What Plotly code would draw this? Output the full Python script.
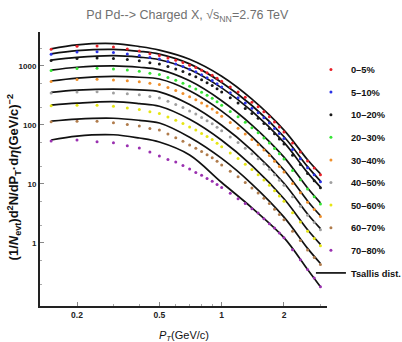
import plotly.graph_objects as go

# transverse momentum bins (GeV/c)
pt = [0.15, 0.2, 0.25, 0.3, 0.35, 0.4, 0.45, 0.5, 0.55, 0.6, 0.65, 0.7, 0.75, 0.8, 0.85,
      0.9, 0.95, 1.0, 1.1, 1.2, 1.3, 1.4, 1.5, 1.6, 1.7, 1.8, 1.9, 2.0, 2.2, 2.4, 2.6, 2.8, 3.0]

# measured spectra per centrality class
c0_5 = [1915, 2150, 2177, 2094, 1937, 1791, 1619, 1499, 1365, 1248, 1141, 1027, 939, 846, 767,
        696, 620, 552, 442, 364, 296, 244, 203, 167, 138, 112, 92, 76, 49.5, 34.8, 24.5, 18.7, 14.3]
c5_10 = [1577, 1723, 1750, 1691, 1601, 1511, 1393, 1308, 1187, 1077, 981, 880, 795, 707, 634,
         569, 500, 442, 353, 290, 235, 193, 161, 132, 108, 87.6, 71.8, 58.9, 38.3, 26.9, 18.9, 14.3, 10.9]
c10_20 = [1234, 1334, 1371, 1339, 1283, 1224, 1137, 1077, 977, 887, 807, 724, 654, 582, 520,
          469, 412, 364, 289, 236, 191, 156, 130, 106, 87.3, 70.8, 58.0, 47.6, 30.8, 21.4, 15.0, 11.4, 8.6]
c20_30 = [836, 904, 918, 889, 853, 813, 755, 716, 637, 571, 512, 454, 406, 358, 318,
          284, 248, 217, 170, 138, 111, 89.7, 73.8, 60.3, 49.3, 39.8, 32.5, 26.5, 17.0, 11.8, 8.2, 6.1, 4.6]
c30_40 = [545, 589, 598, 580, 562, 541, 508, 485, 430, 383, 342, 302, 269, 236, 209,
          186, 162, 141, 110, 88.3, 70.2, 56.6, 46.3, 37.5, 30.4, 24.4, 19.8, 16.0, 10.2, 7.1, 4.9, 3.7, 2.8]
c40_50 = [350, 364, 365, 350, 338, 325, 304, 288, 252, 223, 197, 172, 153, 134, 118,
          105, 91.4, 79.8, 62.5, 50.4, 40.4, 32.7, 26.9, 21.9, 17.8, 14.3, 11.6, 9.5, 6.1, 4.2, 2.95, 2.22, 1.68]
c50_60 = [211, 217, 217, 207, 194, 183, 168, 157, 137, 120, 106, 92.2, 82.0, 71.8, 63.5,
          56.5, 49.1, 42.9, 33.5, 27.1, 21.7, 17.6, 14.4, 11.7, 9.5, 7.7, 6.25, 5.08, 3.26, 2.27, 1.58, 1.19, 0.90]
c60_70 = [113, 116, 116, 109, 102, 95.8, 87.6, 82.0, 70.5, 61.0, 53.2, 45.8, 40.5, 35.5, 31.3,
          27.8, 24.2, 21.0, 16.5, 13.3, 10.6, 8.56, 7.02, 5.71, 4.65, 3.74, 3.04, 2.47, 1.58, 1.10, 0.76, 0.57, 0.43]
c70_80 = [53.5, 55.6, 52.0, 50.0, 44.5, 40.7, 34.9, 29.8, 26.0, 23.6, 20.6, 18.0, 15.7, 14.0, 12.4,
          11.1, 9.84, 8.76, 7.0, 5.6, 4.67, 3.80, 3.21, 2.57, 2.12, 1.79, 1.48, 1.23, 0.77, 0.52, 0.354, 0.256, 0.181]

# Tsallis distribution curves, read at these pT values
fit_pt = [0.15, 0.2, 0.3, 0.4, 0.5, 0.7, 1.0, 1.4, 2.0, 2.6, 3.0]
f0_5 = [1954, 2280, 2399, 2135, 1857, 1298, 670, 274, 82.0, 25.7, 14.8]
f5_10 = [1607, 1820, 1915, 1772, 1589, 1085, 526, 214, 63.2, 19.7, 11.2]
f10_20 = [1253, 1397, 1493, 1409, 1277, 873, 425, 172, 50.6, 15.6, 8.87]
f20_30 = [849, 951, 1004, 951, 866, 560, 258, 99.6, 28.5, 8.53, 4.78]
f30_40 = [556, 625, 665, 644, 601, 381, 172, 63.7, 17.3, 5.16, 2.89]
f40_50 = [357, 389, 406, 393, 364, 222, 98.9, 37.2, 10.3, 3.10, 1.75]
f50_60 = [217, 234, 248, 230, 208, 125, 55.2, 20.5, 5.62, 1.68, 0.95]
f60_70 = [116, 126, 130, 120, 108, 62, 27.1, 9.96, 2.74, 0.81, 0.45]
f70_80 = [55.6, 64.9, 68.3, 60.1, 51.4, 31.0, 10.6, 3.95, 1.23, 0.354, 0.181]

labels = ["0\u20135%", "5\u201310%", "10\u201320%", "20\u201330%", "30\u201340%",
          "40\u201350%", "50\u201360%", "60\u201370%", "70\u201380%"]
data_sets = [c0_5, c5_10, c10_20, c20_30, c30_40, c40_50, c50_60, c60_70, c70_80]
fit_sets = [f0_5, f5_10, f10_20, f20_30, f30_40, f40_50, f50_60, f60_70, f70_80]
colors = ["#e82028", "#2a32e6", "#1a1a1a", "#36e636", "#f0902c", "#a0a0a0",
          "#e6e614", "#b07c4c", "#9a30b0"]

FONT = "Liberation Sans Narrow, Arial Narrow, Liberation Sans, Arial, sans-serif"

fig = go.Figure()

# curves first (drawn under points), legend shown once, ranked last
for i, f in enumerate(fit_sets):
    fig.add_trace(go.Scatter(
        x=fit_pt, y=f, mode="lines",
        line=dict(color="#111111", width=1.7, shape="spline", smoothing=1.0),
        name="<b>Tsallis dist.</b>", legendgroup="tsallis", legendrank=100,
        showlegend=(i == 0), hoverinfo="skip"))

for i, (lab, d, c) in enumerate(zip(labels, data_sets, colors)):
    fig.add_trace(go.Scatter(
        x=pt, y=d, mode="markers",
        marker=dict(color=c, size=3, symbol="circle"),
        name="<b>" + lab + "</b>", legendgroup="g%d" % i, legendrank=i + 1))

fig.update_layout(
    width=402, height=342,
    margin=dict(l=40, r=75, t=32, b=36, autoexpand=False),
    paper_bgcolor="white", plot_bgcolor="white",
    font=dict(family=FONT, color="#111111"),
    title=dict(text="Pd Pd--> Charged X, \u221As<sub>NN</sub>=2.76 TeV",
               x=0.466, xref="container", xanchor="center",
               y=0.956, yref="container", yanchor="middle",
               font=dict(family=FONT, size=12.5, color="#707070")),
    showlegend=True,
    legend=dict(x=0.944, xanchor="left", y=0.916, yanchor="top",
                traceorder="grouped", tracegroupgap=3.6,
                font=dict(family=FONT, size=9.3, color="#111111"),
                bgcolor="rgba(0,0,0,0)", borderwidth=0, itemwidth=30),
    xaxis=dict(type="log", range=[-0.8777, 0.5088],
               showline=True, linecolor="#222222", linewidth=2,
               showgrid=False, zeroline=False, mirror=False,
               ticks="inside", ticklen=4, tickwidth=1, tickcolor="#888888",
               tickmode="array", tickvals=[0.2, 0.5, 1, 2], ticktext=["0.2", "0.5", "1", "2"],
               tickfont=dict(family=FONT, size=8.5, color="#222222", weight="bold"),
               minor=dict(ticks="inside", ticklen=2, tickcolor="#aaaaaa",
                          tickmode="array",
                          tickvals=[0.3, 0.4, 0.6, 0.7, 0.8, 0.9, 3.0]),
               ),
    yaxis=dict(type="log", range=[-1.068, 3.576],
               showline=True, linecolor="#222222", linewidth=2,
               showgrid=False, zeroline=False, mirror=False,
               ticks="inside", ticklen=4, tickwidth=1, tickcolor="#888888",
               tickmode="array", tickvals=[1, 10, 100, 1000], ticktext=["1", "10", "100", "1000"],
               tickfont=dict(family=FONT, size=8, color="#222222", weight="bold"),
               minor=dict(ticks="inside", ticklen=2, tickcolor="#aaaaaa",
                          tickmode="array",
                          tickvals=[0.2, 0.5, 2, 5, 20, 50, 200, 500, 2000]),
               ),
    annotations=[
        dict(text="<b>(1/<i>N</i><sub>evt</sub>)d<sup>2</sup>N/dP<sub>T</sub>\u00b7d<i>\u03b7</i>(GeV/c)<sup>\u22122</sup></b>",
             xref="paper", yref="paper", x=-0.09, y=0.47, textangle=-90,
             showarrow=False, xanchor="center", yanchor="middle",
             font=dict(family=FONT, size=13, color="#111111")),
        dict(text="<i>P</i><sub><i>T</i></sub>(GeV/c)",
             xref="paper", yref="paper", x=0.5, y=-0.11,
             showarrow=False, xanchor="center", yanchor="middle",
             font=dict(family=FONT, size=11, color="#111111")),
    ],
)

fig.write_html("out.html")
